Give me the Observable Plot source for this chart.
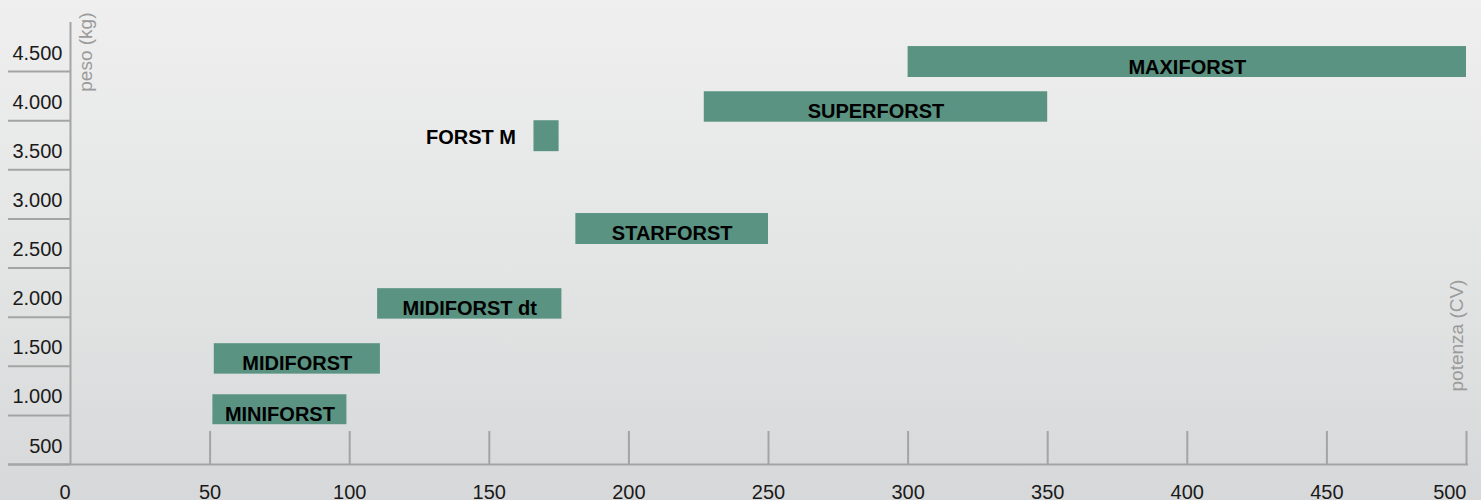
<!DOCTYPE html>
<html>
<head>
<meta charset="utf-8">
<script src="https://cdn.jsdelivr.net/npm/d3@7"></script>
<script src="https://cdn.jsdelivr.net/npm/@observablehq/plot@0.6"></script>
<style>
  html, body { margin: 0; padding: 0; }
  body {
    width: 1481px; height: 500px; overflow: hidden;
    background: linear-gradient(to bottom, #efefef 0%, #e4e5e5 50%, #d7d8d9 100%);
    font-family: "Liberation Sans", Arial, sans-serif;
  }
  #chart svg { display: block; }
</style>
</head>
<body>
<div id="chart"></div>
<script>
// ---- data ----
const models     = ["MINIFORST", "MIDIFORST", "MIDIFORST dt", "STARFORST", "FORST M", "SUPERFORST", "MAXIFORST"];
const powerMin   = [51, 51.5, 110, 181, 166, 227, 300];   // CV
const powerMax   = [99, 111, 176, 250, 175, 350, 500];    // CV
const weightMin  = [905, 1420, 1980, 2740, 3685, 3985, 4440]; // kg
const weightMax  = [1210, 1730, 2290, 3055, 4000, 4295, 4755]; // kg
const labelSide  = ["inside", "inside", "inside", "inside", "left", "inside", "inside"];

const xTickValues  = [50, 100, 150, 200, 250, 300, 350, 400, 450, 500];
const xLabelsMid   = [50, 100, 150, 200, 250, 300, 350, 400, 450];
const xLabelsEnds  = [0, 500];
const yTickValues  = [500, 1000, 1500, 2000, 2500, 3000, 3500, 4000, 4500];
const yTickLabels  = ["500", "1.000", "1.500", "2.000", "2.500", "3.000", "3.500", "4.000", "4.500"];
const xTitle = "potenza (CV)";
const yTitle = "peso (kg)";

// ---- layout / style ----
const W = 1481, H = 500;
const mL = 70, mR = 15, mT = 22, mB = 36;
const frameW = W - mL - mR;
const frameH = H - mT - mB;
const barColor = "#5a9382";
const axisColor = "#a4a4a4";
const font = "'Liberation Sans', Arial, sans-serif";

const rows = models.map((m, i) => ({
  model: m, p0: powerMin[i], p1: powerMax[i], w0: weightMin[i], w1: weightMax[i], side: labelSide[i]
}));

const chart = Plot.plot({
  width: W, height: H,
  marginLeft: mL, marginRight: mR, marginTop: mT, marginBottom: mB,
  style: { background: "transparent", color: "#1a1a1a", fontFamily: font, fontSize: "20px", overflow: "visible" },
  x: { domain: [0, 500], axis: null },
  y: { domain: [500, 5000], axis: null },
  marks: [
    // bars
    Plot.rectY(rows, { x1: "p0", x2: "p1", y1: "w0", y2: "w1", fill: barColor }),
    // labels inside
    Plot.text(rows.filter(d => d.side === "inside"), {
      x: d => (d.p0 + d.p1) / 2, y: "w0", text: "model",
      lineAnchor: "bottom", dy: -4, fontWeight: "bold", fontSize: 20, fill: "#000"
    }),
    // label on the left
    Plot.text(rows.filter(d => d.side === "left"), {
      x: "p0", y: "w0", text: "model", textAnchor: "end", dx: -18,
      lineAnchor: "bottom", dy: -8, fontWeight: "bold", fontSize: 20, fill: "#000"
    }),
    // y tick lines (in the left margin)
    Plot.ruleY(yTickValues, { stroke: axisColor, strokeWidth: 2, insetLeft: -62, insetRight: frameW }),
    // x tick lines (short, upward from the baseline)
    Plot.ruleX(xTickValues, { stroke: axisColor, strokeWidth: 2, insetTop: frameH - 33 }),
    // axis lines
    Plot.ruleX([0], { stroke: axisColor, strokeWidth: 2 }),
    Plot.ruleY([500], { stroke: axisColor, strokeWidth: 2, insetLeft: -62, insetRight: -2 }),
    // y tick labels (above their tick line)
    Plot.text(yTickValues, {
      y: d => d, text: (d, i) => yTickLabels[i], frameAnchor: "left",
      textAnchor: "end", dx: -8, dy: -18.4, fontSize: 20, fill: "#1a1a1a"
    }),
    // x tick labels
    Plot.text(xLabelsMid, {
      x: d => d, text: d => String(d), frameAnchor: "bottom",
      lineAnchor: "top", dy: 20, fontSize: 20, fill: "#1a1a1a"
    }),
    Plot.text(xLabelsEnds, {
      x: d => d, text: d => String(d), frameAnchor: "bottom", textAnchor: "end",
      lineAnchor: "top", dy: 20, fontSize: 20, fill: "#1a1a1a"
    }),
    // axis titles
    Plot.text([yTitle], {
      frameAnchor: "top-left", rotate: -90, textAnchor: "end", lineAnchor: "bottom",
      dx: 21, dy: -10, fontSize: 19, fill: "#9a9a9a"
    }),
    Plot.text([xTitle], {
      frameAnchor: "bottom-right", rotate: -90, textAnchor: "start", lineAnchor: "bottom",
      dx: -4, dy: -73, fontSize: 19, fill: "#9a9a9a"
    })
  ]
});

document.getElementById("chart").appendChild(chart);
</script>
</body>
</html>
